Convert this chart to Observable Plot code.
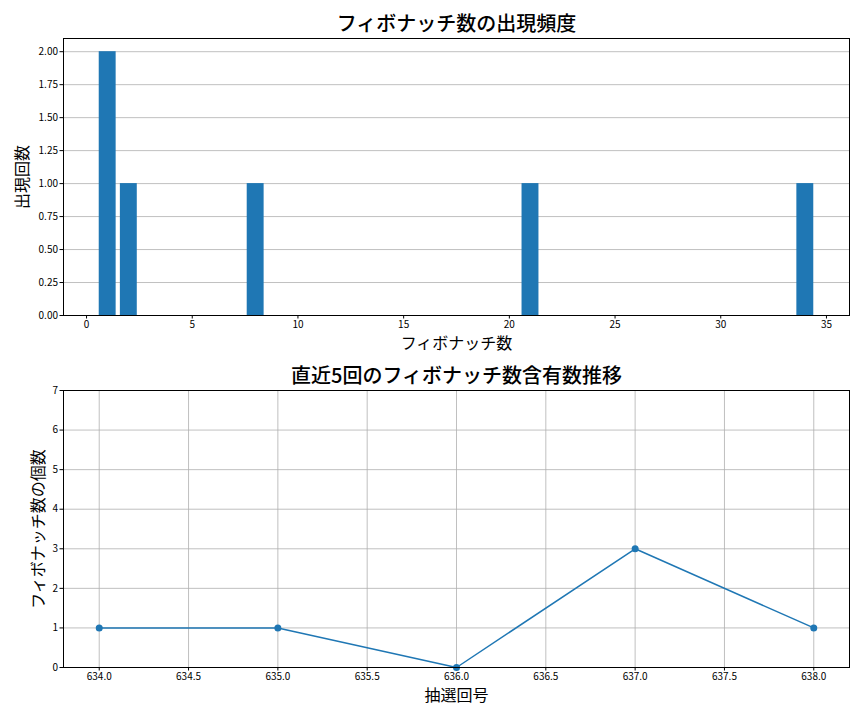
<!DOCTYPE html>
<html><head><meta charset="utf-8">
<script src="https://cdn.jsdelivr.net/npm/d3@7"></script>
<script src="https://cdn.jsdelivr.net/npm/@observablehq/plot@0.6"></script>
<style>
body{margin:0;background:#fff;font-family:"Noto Sans CJK JP","Noto Sans",sans-serif;}
svg{display:block;}
</style></head><body><div id="c"></div>
<script>
const fibNumbers = [1, 2, 8, 21, 34];
const fibCounts = [2, 1, 1, 1, 1];
const draws = [634, 635, 636, 637, 638];
const drawCounts = [1, 1, 0, 3, 1];
const yTicksTop = [0, 0.25, 0.5, 0.75, 1, 1.25, 1.5, 1.75, 2];
const xTicksTop = [0, 5, 10, 15, 20, 25, 30, 35];
const xTicksBot = [634, 634.5, 635, 635.5, 636, 636.5, 637, 637.5, 638];
const yTicksBot = [0, 1, 2, 3, 4, 5, 6, 7];

const blue = "#1f77b4";
const grid = "#b0b0b0";
const font = "Noto Sans CJK JP";

const barData = fibNumbers.map((v, i) => ({v, c: fibCounts[i]}));
const lineData = draws.map((d, i) => ({d, c: drawCounts[i]}));

const lbl = {textAnchor: "middle", lineAnchor: "middle", fill: "#000"};

const topChart = Plot.plot({
  width: 864, height: 360,
  marginTop: 38, marginBottom: 45, marginLeft: 63, marginRight: 15,
  style: {fontFamily: font, fontSize: "10px", color: "#000"},
  x: {domain: [-1.09, 36.09], ticks: xTicksTop, tickSize: 3.5, tickPadding: 2, label: null},
  y: {domain: [0, 2.1], ticks: yTicksTop, tickFormat: d3.format(".2f"), tickSize: 3.5, tickPadding: 2, label: null},
  marks: [
    Plot.ruleY(yTicksTop, {stroke: grid, strokeWidth: 0.8}),
    Plot.rectY(barData, {x1: d => d.v - 0.4, x2: d => d.v + 0.4, y1: 0, y2: "c", fill: blue}),
    Plot.frame({stroke: "#000", strokeWidth: 1}),
    Plot.text(["フィボナッチ数の出現頻度"], {...lbl, frameAnchor: "top", dy: -14, fontSize: 20, fontWeight: 500}),
    Plot.text(["フィボナッチ数"], {...lbl, frameAnchor: "bottom", dy: 28.5, fontSize: 16}),
    Plot.text(["出現回数"], {...lbl, frameAnchor: "left", dx: -41, rotate: -90, fontSize: 16})
  ]
});

const botChart = Plot.plot({
  width: 864, height: 360,
  marginTop: 30, marginBottom: 53, marginLeft: 63, marginRight: 15,
  style: {fontFamily: font, fontSize: "10px", color: "#000"},
  x: {domain: [633.8, 638.2], ticks: xTicksBot, tickFormat: d3.format(".1f"), tickSize: 3.5, tickPadding: 2, label: null},
  y: {domain: [0, 7], ticks: yTicksBot, tickFormat: d3.format("d"), tickSize: 3.5, tickPadding: 2, label: null},
  marks: [
    Plot.ruleY(yTicksBot, {stroke: grid, strokeWidth: 0.8}),
    Plot.ruleX(xTicksBot, {stroke: grid, strokeWidth: 0.8}),
    Plot.line(lineData, {x: "d", y: "c", stroke: blue, strokeWidth: 1.5}),
    Plot.dot(lineData, {x: "d", y: "c", fill: blue, r: 3.5}),
    Plot.frame({stroke: "#000", strokeWidth: 1}),
    Plot.text(["直近5回のフィボナッチ数含有数推移"], {...lbl, frameAnchor: "top", dy: -14, fontSize: 20, fontWeight: 500}),
    Plot.text(["抽選回号"], {...lbl, frameAnchor: "bottom", dy: 28.5, fontSize: 16}),
    Plot.text(["フィボナッチ数の個数"], {...lbl, frameAnchor: "left", dx: -25, rotate: -90, fontSize: 16})
  ]
});

const c = document.getElementById("c");
c.appendChild(topChart);
c.appendChild(botChart);
</script></body></html>
